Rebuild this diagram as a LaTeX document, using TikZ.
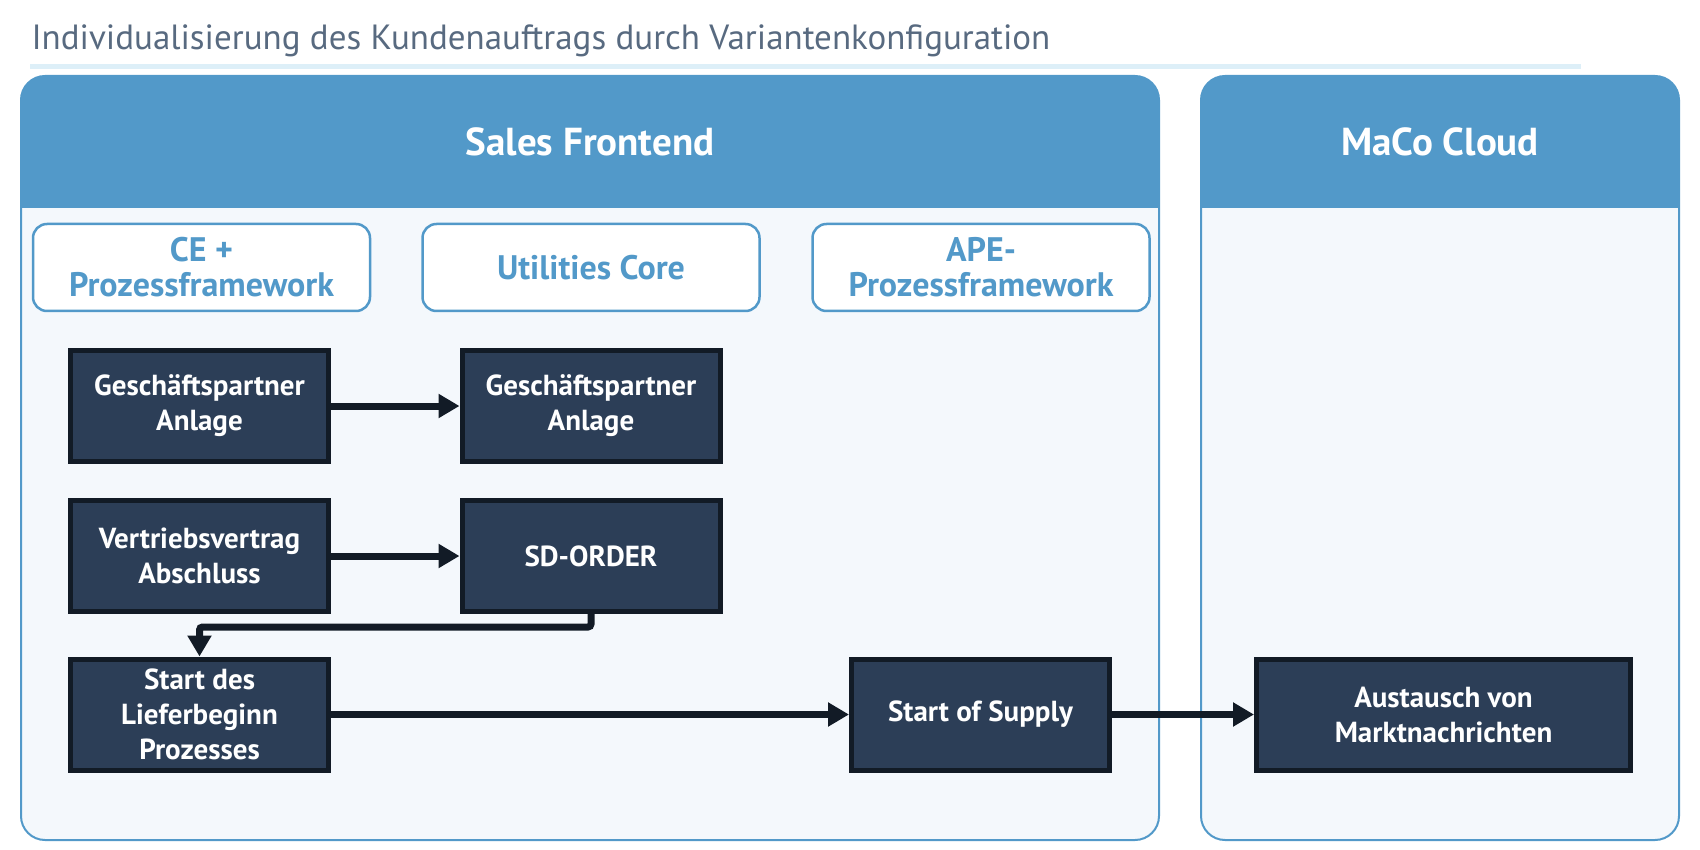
\documentclass[tikz,border=0pt]{standalone}
\usepackage{fontspec}
\setmainfont{PT Sans}
\usetikzlibrary{arrows.meta}
\definecolor{headblue}{HTML}{5299C9}
\definecolor{bodyfill}{HTML}{F4F8FC}
\definecolor{boxfill}{HTML}{2C3E57}
\definecolor{boxline}{HTML}{121B26}
\definecolor{titlegray}{HTML}{586A80}
\definecolor{rulelight}{HTML}{DDEFF8}
\begin{document}
\begin{tikzpicture}[x=1pt,y=-1pt,
    lane/.style={fill=bodyfill,draw=headblue,line width=2pt,rounded corners=24pt},
    lanehead/.style={fill=headblue},
    headtext/.style={text=white,font=\fontsize{39}{46}\selectfont\bfseries},
    group/.style={draw=headblue,fill=white,line width=2.5pt,rounded corners=14pt,
        minimum width=337pt,minimum height=87pt,align=center,text=headblue,
        font=\fontsize{34}{35}\selectfont\bfseries},
    proc/.style={draw=boxline,fill=boxfill,line width=5pt,minimum width=258pt,
        minimum height=111pt,align=center,text=white,
        font=\fontsize{29}{35}\selectfont\bfseries},
    flow/.style={draw=boxline,line width=7pt,rounded corners=3pt,
        -{Triangle[length=21pt,width=23pt]}}]
  \useasboundingbox (0,0) rectangle (1700,850);
  \node[anchor=base west,text=titlegray,font=\fontsize{35}{42}\selectfont] (title) at (28,50)
    {Individualisierung des Kundenauftrags durch Variantenkonfiguration};
  \draw[rulelight,line width=5pt] (30,67) -- (1581,67);

  \draw[lane] (21,76) rectangle (1159,840);
  \fill[lanehead] (21,208) [rounded corners=24pt] -- (21,76) -- (1159,76) [sharp corners] -- (1159,208) -- cycle;
  \node[headtext] (sales) at (590,142) {Sales Frontend};

  \draw[lane] (1201,76) rectangle (1679,840);
  \fill[lanehead] (1201,208) [rounded corners=24pt] -- (1201,76) -- (1679,76) [sharp corners] -- (1679,208) -- cycle;
  \node[headtext] (maco) at (1440,142) {MaCo Cloud};

  \node[group] (ce) at (201.5,267.5) {CE +\\Prozessframework};
  \node[group] (uc) at (591,267.5) {Utilities Core};
  \node[group] (ape) at (981,267.5) {APE-\\Prozessframework};

  \node[proc] (gpa) at (199.5,406) {Geschäftspartner\\Anlage};
  \node[proc] (gpb) at (591,406) {Geschäftspartner\\Anlage};
  \node[proc] (vva) at (199.5,556) {Vertriebsvertrag\\Abschluss};
  \node[proc] (sdo) at (591,556) {SD-ORDER};
  \node[proc] (slb) at (199.5,714.5) {Start des\\Lieferbeginn\\Prozesses};
  \node[proc] (sos) at (980.5,714.5) {Start of Supply};
  \node[proc,minimum width=374pt] (amn) at (1443.5,714.5) {Austausch von\\Marktnachrichten};

  \draw[flow] (gpa) -- (gpb);
  \draw[flow] (vva) -- (sdo);
  \draw[flow] (sdo.south) -- ++(0,13) -| (slb.north);
  \draw[flow] (slb) -- (sos);
  \draw[flow] (sos) -- (amn);
\end{tikzpicture}
\end{document}
